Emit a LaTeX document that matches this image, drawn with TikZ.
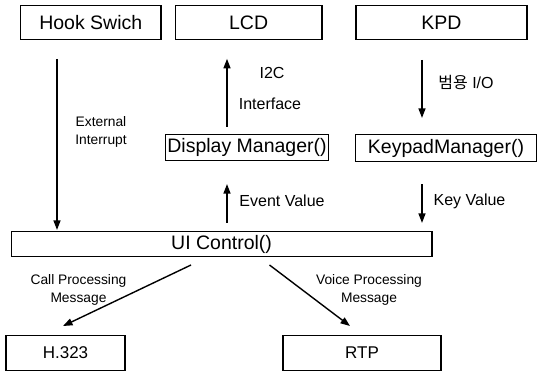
\documentclass[tikz,border=0pt]{standalone}
\usepackage{fontspec}
\setmainfont{Liberation Sans}
\newfontfamily\krfont{Noto Sans CJK KR}
\usetikzlibrary{arrows.meta}
\begin{document}
\begin{tikzpicture}[x=1pt,y=-1pt,
  box/.style={draw, line width=1.2pt, inner sep=0pt, font=\fontsize{19.5}{21}\selectfont},
  arr/.style={line width=1.4pt, -{Triangle[length=9.5pt,width=7pt]}},
  lbl/.style={inner sep=0pt, font=\fontsize{16}{18}\selectfont},
  slbl/.style={inner sep=0pt, align=center, font=\fontsize{13.8}{18}\selectfont}]
\useasboundingbox (0,0) rectangle (538,372);
% boxes
\node[box, minimum width=140.5pt, minimum height=33.5pt] (hook) at (90.75,22.5) {Hook Swich};
\node[box, minimum width=146.7pt, minimum height=33.5pt] (lcd) at (248.65,22.5) {LCD};
\node[box, minimum width=171pt, minimum height=33.5pt] (kpd) at (441.5,22.5) {KPD};
\node[box, minimum width=163.5pt, minimum height=26pt] (disp) at (247,147.5) {Display Manager()};
\node[box, minimum width=181pt, minimum height=27pt] (keyp) at (446,148) {KeypadManager()};
\node[box, minimum width=420.7pt, minimum height=25pt] (ui) at (221.6,244) {UI Control()};
\node[box, minimum width=119pt, minimum height=35pt, font=\fontsize{17}{19}\selectfont] (h323) at (65.5,353) {H.323};
\node[box, minimum width=158pt, minimum height=35pt, font=\fontsize{17}{19}\selectfont] (rtp) at (362,353) {RTP};
% x positions of vertical connectors
\coordinate (hx) at (57,0);
\coordinate (dx) at (227,0);
\coordinate (kx) at (422,0);
% vertical connectors
\draw[arr, shorten <=19pt, shorten >=1pt] (hook.south -| hx) -- (ui.north -| hx);
\draw[arr, shorten <=7pt, shorten >=19pt] (disp.north -| dx) -- (lcd.south -| dx);
\draw[arr, shorten <=20pt, shorten >=16pt] (kpd.south -| kx) -- (keyp.north -| kx);
\draw[arr, shorten <=8pt, shorten >=23pt] (ui.north -| dx) -- (disp.south -| dx);
\draw[arr, shorten <=22pt, shorten >=8pt] (keyp.south -| kx) -- (ui.north -| kx);
% diagonal connectors
\coordinate (c1) at (191,265);
\coordinate (c2) at (63,326);
\coordinate (v1) at (269.5,265);
\coordinate (v2) at (350,326);
\draw[arr] (c1) -- (c2);
\draw[arr] (v1) -- (v2);
% labels
\node[lbl] (i2c) at (272,73) {I2C};
\node[lbl] (intf) at (270,104) {Interface};
\node[lbl] (gpio) at (466,82) {{\krfont 범용} I/O};
\node[slbl] (ext) at (101,132) {External\\Interrupt};
\node[lbl] (ev) at (282,201) {Event Value};
\node[lbl] (kv) at (469.5,201) {Key Value};
\node[slbl] (cpm) at (78.5,289.5) {Call Processing\\Message};
\node[slbl] (vpm) at (369,289.5) {Voice Processing\\Message};
\end{tikzpicture}
\end{document}
